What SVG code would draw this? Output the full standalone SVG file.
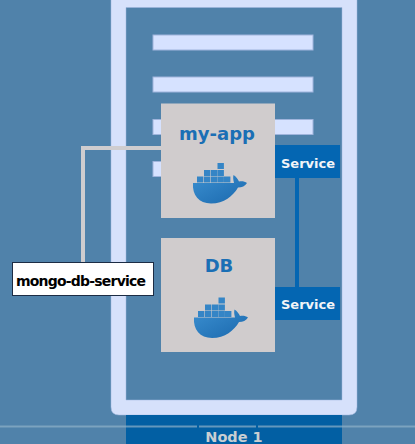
<svg xmlns="http://www.w3.org/2000/svg" width="415" height="444" viewBox="0 0 415 444">
<style>
.bar{fill:#d6e2ff;stroke:#9fb4dc;stroke-width:1}
.box{fill:#d0cccd}
.svc{fill:#0466b2}
.t{font-family:"DejaVu Sans",sans-serif;font-weight:bold}
.c{fill:#3585c6}
</style>
<defs>
<linearGradient id="h" x1="0" y1="0" x2="1" y2="1"><stop offset="0" stop-color="#3b8fd0"/><stop offset="1" stop-color="#1a68ad"/></linearGradient>
<g id="whale">
<path fill="url(#h)" d="M193 183H234C233 179 233 177 233.500 175C236 176.500 238 179 239 181.500C242 181 245 181.500 247 183C245 186 242 187.500 238 187.500C233 196 224 203.500 211 203.500C199 203.500 192 195 193 183Z"/>
<g class="c">
<rect x="197" y="176.500" width="6.400" height="6"/><rect x="204" y="176.500" width="6.400" height="6"/><rect x="211" y="176.500" width="6.400" height="6"/><rect x="217.500" y="176.500" width="6.400" height="6"/><rect x="224" y="176.500" width="6.400" height="6"/>
<rect x="204" y="170" width="6.400" height="6"/><rect x="211" y="170" width="6.400" height="6"/><rect x="217.500" y="170" width="6.400" height="6"/>
<rect x="217.500" y="163" width="6.400" height="6"/>
</g>
</g>
</defs>
<rect width="415" height="444" fill="#5082aa"/>
<g id="node-frame">
<path fill-rule="evenodd" fill="#d6e1fb" stroke="#9fb4dc" stroke-width="0.500" d="M111 -12H357V407Q357 415 349 415H119Q111 415 111 407ZM126 7.500V400H342V7.500Z"/>
<rect x="126" y="415" width="216" height="29" fill="#025fa3"/>
<path d="M0 426.500H197M199 426.500H256M258 426.500H415" fill="none" stroke="#8fb0c8" stroke-width="2" opacity="0.7"/>
<text class="t" x="234" y="442" font-size="14.500" text-anchor="middle" fill="#c9ced2">Node 1</text>
</g>
<g id="config-lines">
<rect class="bar" x="153" y="35" width="160" height="15"/>
<rect class="bar" x="153" y="77" width="160" height="15"/>
<rect class="bar" x="153" y="119.500" width="160" height="15"/>
<rect class="bar" x="153" y="161.500" width="160" height="15"/>
</g>
<g id="connectors">
<path d="M161 148H83V264" fill="none" stroke="#cfcdcf" stroke-width="4"/>
<path d="M297 178V287" fill="none" stroke="#0466b2" stroke-width="4"/>
</g>
<g id="my-app">
<rect class="box" x="161" y="103.500" width="114" height="114.500"/>
<text class="t" x="217" y="140" font-size="18" text-anchor="middle" fill="#1a6fb5">my-app</text>
<use href="#whale"/>
</g>
<g id="db">
<rect class="box" x="161" y="238" width="114" height="114"/>
<text class="t" x="219" y="272" font-size="18" text-anchor="middle" fill="#1a6fb5">DB</text>
<use href="#whale" transform="translate(1 134.500)"/>
</g>
<g id="service-1">
<rect class="svc" x="275" y="145" width="65" height="33"/>
<text class="t" x="308" y="168" font-size="13" text-anchor="middle" fill="#f2f5f8">Service</text>
</g>
<g id="service-2">
<rect class="svc" x="275" y="287" width="65" height="33"/>
<text class="t" x="308" y="309" font-size="13" text-anchor="middle" fill="#f2f5f8">Service</text>
</g>
<g id="mongo-db-service">
<rect x="12.500" y="262.500" width="141" height="33" fill="#fff" stroke="#1c2c44" stroke-width="1"/>
<text class="t" x="16" y="286" font-size="14" fill="#000" textLength="130">mongo-db-service</text>
</g>
</svg>
